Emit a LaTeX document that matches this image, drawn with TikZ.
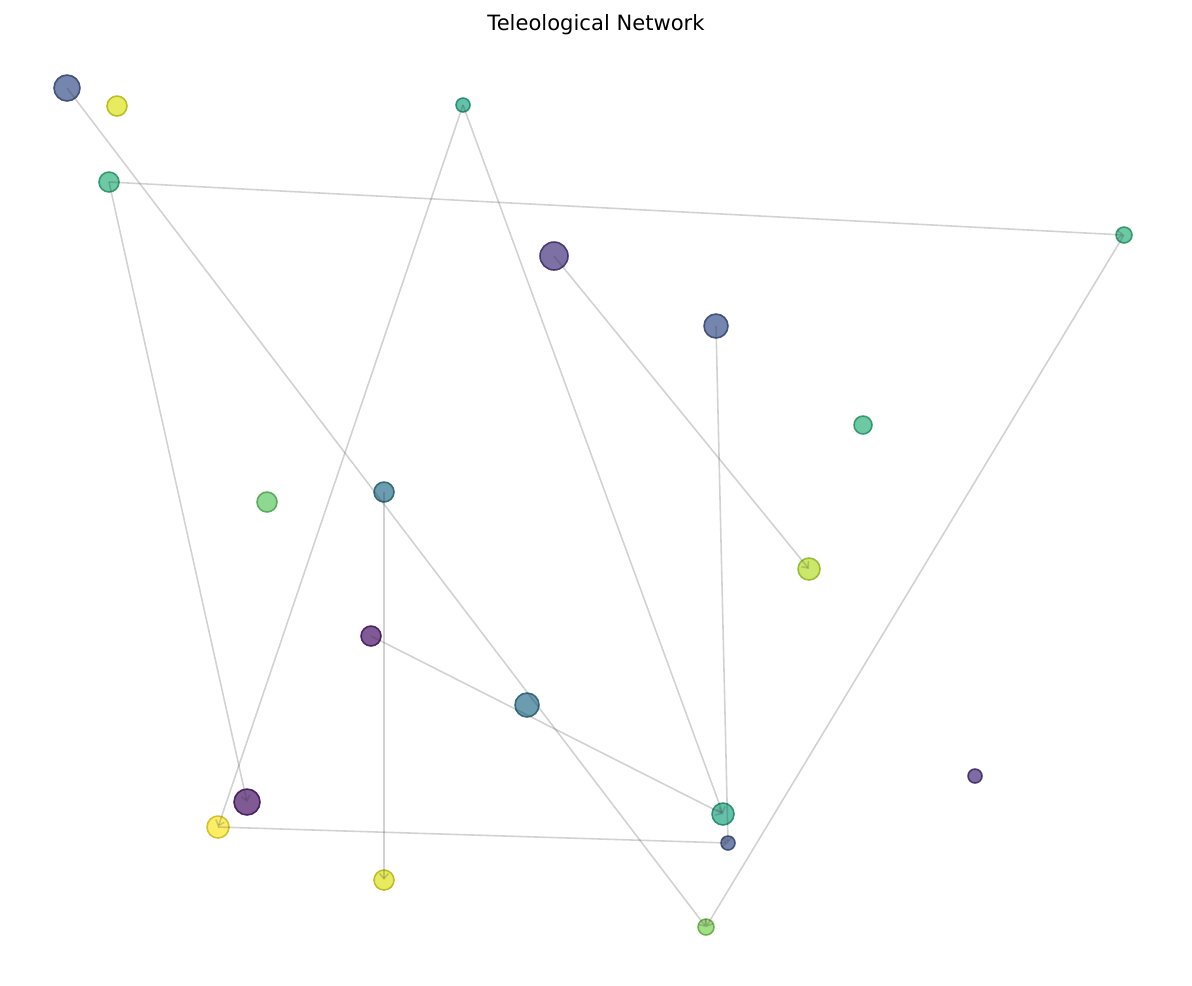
\documentclass[tikz,border=0pt]{standalone}
\usepackage{fontspec}
\setmainfont{DejaVu Sans}
\usetikzlibrary{arrows.meta}
\definecolor{vBlue}{HTML}{3B528B}
\definecolor{vYellow}{HTML}{DDE318}
\definecolor{vTeal}{HTML}{21A685}
\definecolor{vGreen}{HTML}{2DB27D}
\definecolor{vPurple}{HTML}{46337E}
\definecolor{vLgreen}{HTML}{5EC962}
\definecolor{vCyan}{HTML}{2C728E}
\definecolor{vYgreen}{HTML}{B5DE2B}
\definecolor{vDpurple}{HTML}{481467}
\definecolor{vViolet}{HTML}{472D7B}
\definecolor{vGold}{HTML}{FDE725}
\definecolor{vLime}{HTML}{7AD151}
\tikzset{
    agent/.style={circle, inner sep=0pt, fill opacity=0.7, draw opacity=0.85, line width=0.9pt},
    link/.style={draw=black!80, opacity=0.22, line width=0.9pt, -{Straight Barb[length=3pt,width=5pt]}}
}
\begin{document}
\begin{tikzpicture}[x=0.02cm, y=-0.02cm]
\useasboundingbox (0,0) rectangle (1192,985);

\node[font=\large] (title) at (596,25) {Teleological Network};

% agents
\foreach \name/\px/\py/\r/\col in {
  a1/67/88/13/vBlue, a2/117/106/10/vYellow, a3/463/105/7/vTeal,
  a4/109/182/10/vGreen, a5/1124/235/8/vGreen, a6/554/256/14/vPurple,
  a7/716/326/12/vBlue, a8/863/425/9/vGreen, a9/267/502/10/vLgreen,
  a10/384/492/10/vCyan, a11/809/569/11/vYgreen, a12/371/636/10/vDpurple,
  a13/527/705/12/vCyan, a14/975/776/7/vViolet, a15/247/802/13/vDpurple,
  a16/723/814/11/vTeal, a17/218/827/11/vGold, a18/728/843/7/vBlue,
  a19/384/880/10/vYellow, a20/706/927/8/vLime} {
  \node[agent, minimum size=2*\r*0.02cm, fill=\col, draw=\col!80!black] (\name) at (\px,\py) {};
}

% links (drawn centre to centre, over the agents)
\foreach \s/\t in {a1/a20, a4/a5, a4/a15, a3/a17, a3/a16, a6/a11,
  a7/a18, a12/a16, a17/a18, a5/a20, a10/a19} {
  \draw[link] (\s.center) -- (\t.center);
}

\end{tikzpicture}
\end{document}
